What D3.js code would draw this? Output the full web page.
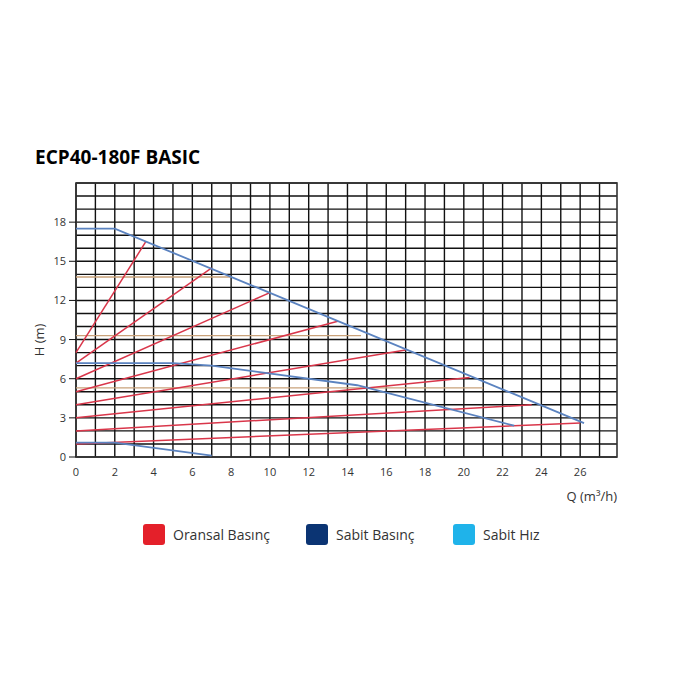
<!DOCTYPE html>
<html><head><meta charset="utf-8">
<script src="https://cdn.jsdelivr.net/npm/d3@7"></script>
<style>body{margin:0;background:#fff;font-family:"Open Sans",sans-serif}</style>
</head><body>
<script>
var xTicks = [0,2,4,6,8,10,12,14,16,18,20,22,24,26]
var yTicks = [0,3,6,9,12,15,18]
var maxCurve = [[0,17.5],[2,17.5],[26.2,2.6]]
var constCurve = [[0,7.2],[5,7.2],[7,7.0],[14.5,5.5],[22.6,2.4]]
var lowCurve = [[0,1.1],[2,1.1],[7,0.1]]
var propLines = [
  [[0,8],[3.6,16.5]],
  [[0,7.2],[7,14.5]],
  [[0,6],[10,12.6]],
  [[0,5],[13.5,10.4]],
  [[0,4],[17,8.2]],
  [[0,3],[20.3,6.1]],
  [[0,2],[23.5,4.0]],
  [[0,1],[26,2.6]]
]
var tanLines = [[13.8,8],[9.3,14.7],[5.3,21]]
var legend = [["Oransal Basınç","#e4202a"],["Sabit Basınç","#0b3473"],["Sabit Hız","#1fb3ea"]]

var svg = d3.select("body").append("svg").attr("width",700).attr("height",700)
var x = d3.scaleLinear().domain([0,27.9]).range([76,617])
var y = d3.scaleLinear().domain([0,21]).range([457,183])

svg.append("text").attr("x",35).attr("y",164).attr("font-size",19).attr("font-weight","bold").text("ECP40-180F BASIC")

var g = svg.append("g")
g.selectAll("line.v").data(d3.range(0,28)).enter().append("line")
  .attr("x1",d=>x(d)).attr("x2",d=>x(d)).attr("y1",y(0)).attr("y2",y(21))
  .attr("stroke","#111").attr("stroke-width",1.4)
g.selectAll("line.h").data(d3.range(0,22)).enter().append("line")
  .attr("y1",d=>y(d)).attr("y2",d=>y(d)).attr("x1",x(0)).attr("x2",x(27.9))
  .attr("stroke","#111").attr("stroke-width",1.4)
g.append("rect").attr("x",x(0)).attr("y",y(21)).attr("width",x(27.9)-x(0)).attr("height",y(0)-y(21))
  .attr("fill","none").attr("stroke","#333").attr("stroke-width",1.6)

tanLines.forEach(function(t){
  g.append("line").attr("x1",x(0)).attr("x2",x(t[1])).attr("y1",y(t[0])).attr("y2",y(t[0]))
    .attr("stroke","#c9a27a").attr("stroke-width",1.4)
})

var line = d3.line().x(d=>x(d[0])).y(d=>y(d[1]))
propLines.forEach(function(p){
  g.append("path").attr("d",line(p)).attr("fill","none").attr("stroke","#d9364a").attr("stroke-width",1.5)
})
;[maxCurve,constCurve,lowCurve].forEach(function(c){
  g.append("path").attr("d",line(c)).attr("fill","none").attr("stroke","#5b83c0").attr("stroke-width",1.8)
})

svg.selectAll("text.xt").data(xTicks).enter().append("text")
  .attr("x",d=>x(d)).attr("y",476).attr("text-anchor","middle").attr("font-size",11).attr("fill","#333").text(d=>d)
svg.selectAll("text.yt").data(yTicks).enter().append("text")
  .attr("x",66).attr("y",d=>y(d)+4).attr("text-anchor","end").attr("font-size",11).attr("fill","#333").text(d=>d)
svg.selectAll("line.yk").data(yTicks).enter().append("line")
  .attr("x1",69).attr("x2",76).attr("y1",d=>y(d)).attr("y2",d=>y(d)).attr("stroke","#111")

svg.append("text").attr("transform","translate(44,340) rotate(-90)").attr("text-anchor","middle")
  .attr("font-size",13).attr("fill","#333").text("H (m)")
svg.append("text").attr("x",617).attr("y",501).attr("text-anchor","end").attr("font-size",13).attr("fill","#333")
  .text("Q (m³/h)")

var lg = svg.selectAll("g.lg").data(legend).enter().append("g")
  .attr("transform",(d,i)=>"translate("+[143,306,453][i]+",524)")
lg.append("rect").attr("width",22).attr("height",21).attr("rx",3).attr("fill",d=>d[1])
lg.append("text").attr("x",30).attr("y",16).attr("font-size",14).attr("fill","#333").text(d=>d[0])
</script>
</body></html>
